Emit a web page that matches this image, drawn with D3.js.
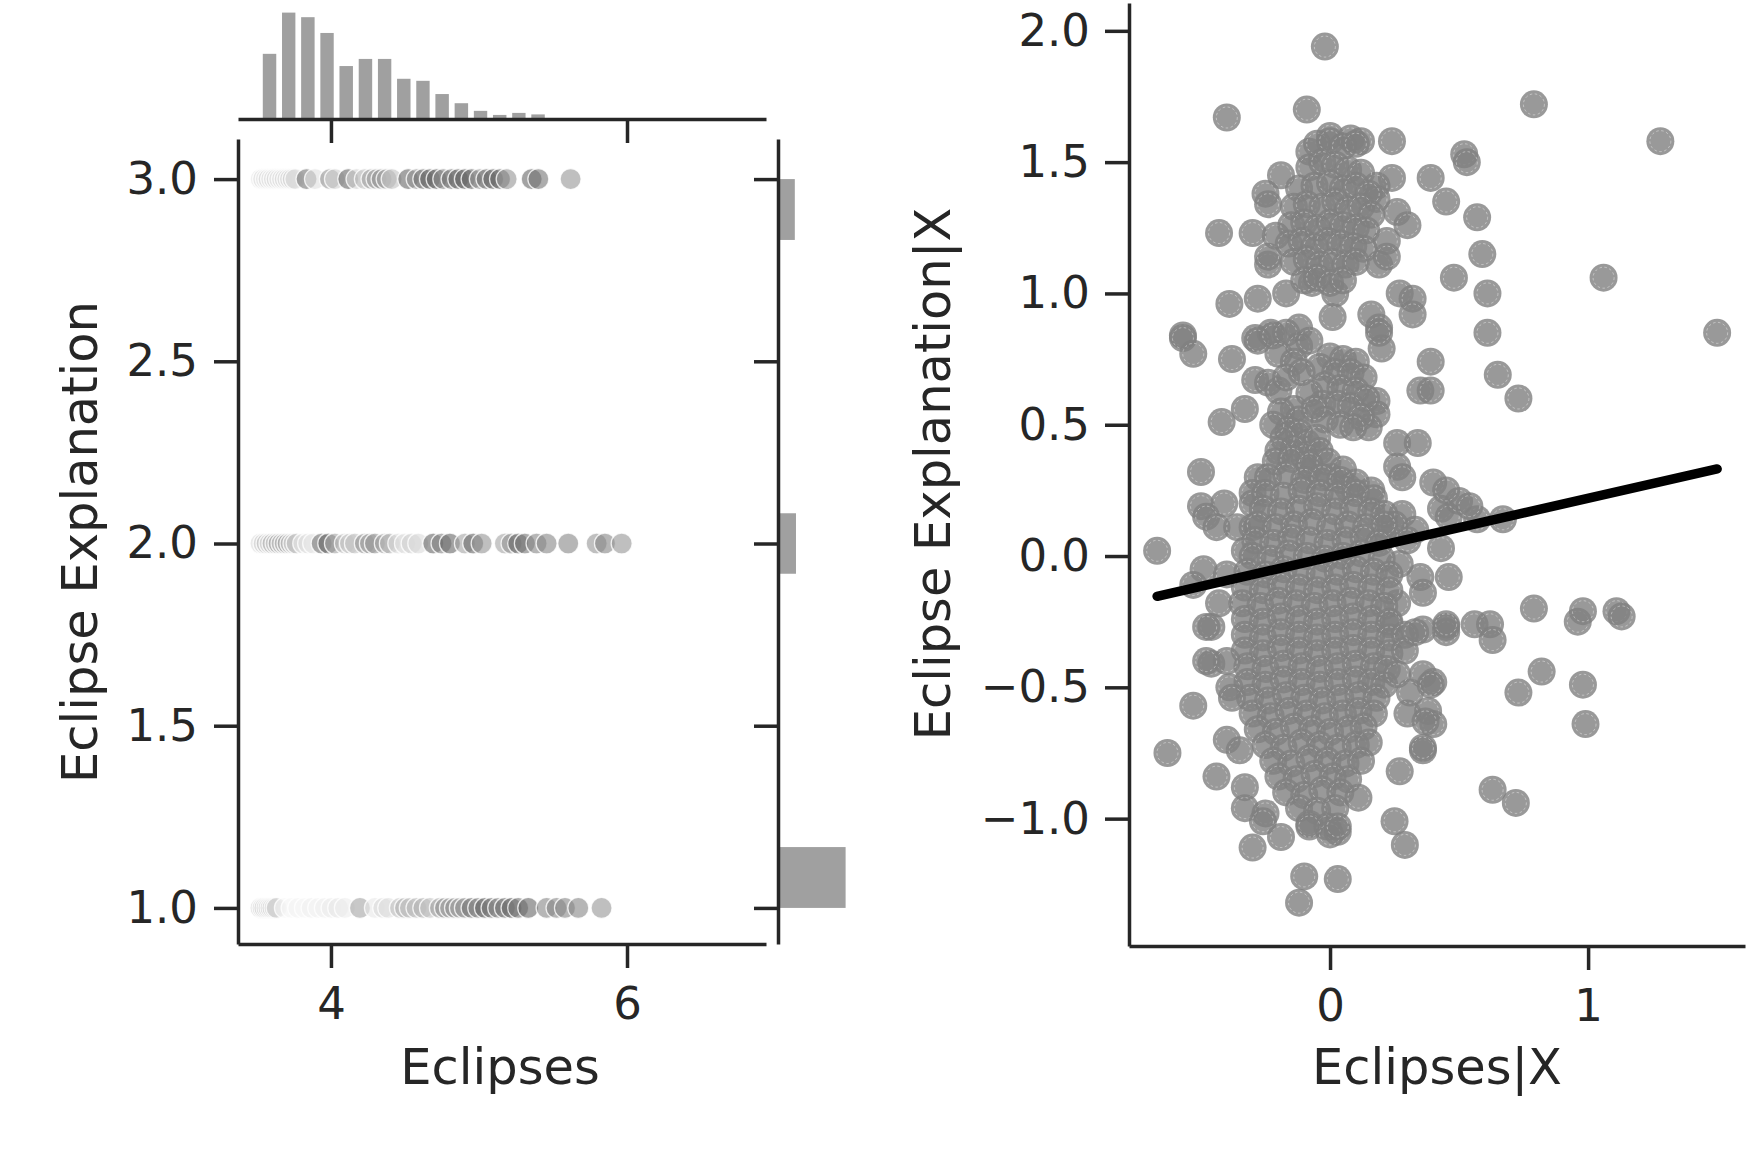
<!DOCTYPE html>
<html>
<head>
<meta charset="utf-8">
<script src="https://cdn.jsdelivr.net/npm/d3@7"></script>
<style>
  body { margin: 0; background: #fff; }
  svg text { font-family: "DejaVu Sans", sans-serif; fill: #262626; }
</style>
</head>
<body>
<div id="chart"></div>
<script>
// ---- left joint plot: Eclipses vs Eclipse Explanation (three levels) ----
// x positions of the points on each level, and a grey shade (0 = white, 1 = darkest)
const row3X = [3.525,3.542,3.560,3.578,3.596,3.614,3.632,3.650,3.669,3.687,3.705,3.723,3.741,3.759,
  3.835,3.892,3.993,4.027,4.117,4.173,4.229,4.274,4.308,4.342,4.376,4.410,4.522,4.579,4.624,4.669,
  4.714,4.759,4.815,4.860,4.905,4.950,5.006,5.051,5.096,5.142,5.187,5.356,5.401,5.619];
const row3Shade = [0.16,0.2,0.16,0.24,0.16,0.2,0.24,0.16,0.2,0.24,0.2,0.24,0.3,0.2,
  0.9,0.2,0.7,0.3,1,0.3,0.4,0.6,0.6,0.7,0.6,0.4,1,0.7,0.9,1,
  1,0.8,0.9,1,1,1,0.7,0.9,1,1,0.7,1,0.9,0.7];

const row2X = [3.524,3.545,3.565,3.585,3.605,3.626,3.646,3.666,3.687,3.707,3.727,3.747,3.768,
  3.813,3.846,3.880,3.937,3.982,4.027,4.094,4.128,4.162,4.229,4.263,4.297,4.364,4.398,
  4.455,4.500,4.545,4.590,4.691,4.747,4.804,4.905,4.961,5.018,5.175,5.220,5.265,5.310,
  5.389,5.457,5.603,5.795,5.851,5.964];
const row2Shade = [0.24,0.3,0.4,0.24,0.5,0.36,0.6,0.4,0.5,0.6,0.4,0.3,0.4,
  0.16,0.2,0.16,0.9,1,0.6,0.4,0.36,0.4,0.7,0.6,0.7,0.6,0.5,
  0.24,0.2,0.3,0.24,1,0.8,1,0.6,1,0.7,0.6,0.7,1,0.9,
  0.8,0.8,0.8,0.7,0.8,0.7];

const row1X = [3.524,3.538,3.551,3.565,3.578,3.592,3.605,3.619,3.633,3.689,3.734,3.779,3.824,
  3.869,3.914,3.959,4.004,4.049,4.094,4.196,4.297,4.353,4.387,4.466,4.500,4.533,4.578,
  4.624,4.669,4.736,4.770,4.804,4.838,4.871,4.905,4.950,4.995,5.040,5.085,5.130,5.175,
  5.220,5.265,5.333,5.457,5.524,5.581,5.671,5.828];
const row1Shade = [0.3,0.24,0.36,0.3,0.24,0.32,0.3,0.24,0.3,0.06,0.06,0.08,0.06,
  0.1,0.08,0.1,0.12,0.16,0.12,0.6,0.16,0.24,0.2,0.4,0.5,0.4,0.44,
  0.5,0.4,0.6,0.7,0.6,0.7,0.6,0.7,0.9,0.8,1,0.9,0.8,0.9,
  1,0.9,1,0.8,0.8,0.8,0.8,0.7];

// marginal histograms
const topHistEdges = [3.520,3.650,3.779,3.909,4.038,4.168,4.298,4.427,4.557,4.686,4.816,4.946,5.075,5.205,5.334,5.464];
const topHistCounts = [128,209,200,169,104,118,118,79,75,49,31,16,8,12,9];
const sideHistBins = [[1.0,1.167],[1.917,2.083],[2.833,3.0]];
const sideHistCounts = [985,262,245];

const leftXTicks = [4, 6];
const leftYTicks = [1.0, 1.5, 2.0, 2.5, 3.0];

// ---- right plot: partial regression, Eclipses|X vs Eclipse Explanation|X ----
const residPoints = [
  [-0.02,1.94],[-0.40,1.67],[-0.09,1.70],[0.79,1.72],[1.28,1.58],[0.24,1.58],[0.24,1.44],[0.39,1.44],
  [0.45,1.35],[0.52,1.53],[0.53,1.50],[0.57,1.29],[0.59,1.15],[0.61,1.00],[0.61,0.85],[0.48,1.06],
  [1.06,1.06],[1.50,0.85],[0.65,0.69],[0.73,0.60],
  [-0.43,1.23],[-0.30,1.23],[-0.19,1.45],[-0.25,1.38],[-0.24,1.34],[0.00,1.60],[0.08,1.59],[0.12,1.58],
  [-0.08,1.54],[0.18,1.41],[0.18,1.36],[0.26,1.31],[0.30,1.26],[0.22,1.20],[0.19,1.11],[0.22,1.14],
  [0.27,1.00],[0.32,0.98],[0.32,0.92],[0.16,0.92],[0.19,0.87],[0.02,1.00],[0.01,0.91],[-0.07,1.04],
  [-0.17,1.00],[-0.28,0.98],[-0.39,0.96],[-0.57,0.84],[-0.24,1.11],[-0.24,1.14],[-0.21,1.22],
  [-0.12,0.87],[-0.23,0.85],[-0.29,0.83],
  [-0.05,1.57],[0.00,1.58],[0.05,1.56],[0.10,1.57],
  [-0.08,1.48],[-0.03,1.50],[0.02,1.49],[0.07,1.47],[0.12,1.46],
  [-0.12,1.40],[-0.06,1.41],[0.00,1.42],[0.05,1.40],[0.10,1.41],[0.15,1.38],
  [-0.14,1.33],[-0.09,1.34],[-0.03,1.33],[0.02,1.35],[0.07,1.32],[0.12,1.33],[0.16,1.30],
  [-0.15,1.26],[-0.10,1.27],[-0.05,1.25],[0.00,1.27],[0.05,1.26],[0.10,1.25],[0.14,1.24],
  [-0.16,1.19],[-0.11,1.20],[-0.06,1.18],[-0.01,1.20],[0.04,1.19],[0.09,1.18],[0.13,1.17],
  [-0.14,1.12],[-0.09,1.13],[-0.04,1.11],[0.01,1.12],[0.06,1.11],[0.10,1.12],
  [-0.10,1.05],[-0.05,1.06],[0.00,1.04],[0.05,1.05],
  [-0.57,0.83],[-0.53,0.77],[-0.38,0.75],[-0.28,0.82],[0.20,0.79],[0.19,0.85],[0.39,0.74],[0.35,0.63],
  [0.39,0.63],[-0.29,0.67],[-0.33,0.56],[-0.42,0.51],[0.18,0.59],[0.18,0.54],[0.15,0.49],[0.26,0.43],
  [0.34,0.43],[0.26,0.34],[0.28,0.30],[0.40,0.28],[-0.50,0.32],[-0.28,0.30],[-0.30,0.24],[-0.30,0.20],
  [-0.50,0.19],[-0.41,0.20],[-0.48,0.15],[-0.44,0.11],[-0.36,0.11],[-0.30,0.11],[-0.33,0.02],[-0.67,0.02],
  [-0.49,-0.05],[-0.53,-0.11],[-0.40,-0.07],[-0.43,-0.18],[-0.46,-0.27],[0.43,0.18],[0.46,0.15],[0.43,0.03],
  [0.35,-0.08],[0.36,-0.14],[0.46,-0.08],[0.45,-0.27],[0.28,0.16],[0.33,0.10],[0.27,-0.03],[0.26,-0.18],
  [0.23,-0.26],[0.36,-0.28],[0.16,0.25],[0.00,0.30],[0.07,0.26],[0.25,0.12],[0.30,0.06],[0.22,0.08],
  [0.67,0.14],[0.57,0.14],[0.50,0.21],[0.54,0.19],[0.45,0.25],
  [-0.22,0.84],[-0.17,0.85],[-0.12,0.80],[-0.08,0.82],[-0.20,0.77],[-0.14,0.74],
  [0.00,0.76],[0.05,0.75],[0.10,0.74],[-0.04,0.72],[0.02,0.70],[0.08,0.70],[0.13,0.68],[-0.02,0.65],
  [0.04,0.64],[0.10,0.63],[0.14,0.60],[-0.03,0.58],[0.03,0.58],[0.08,0.57],[0.12,0.53],[-0.02,0.52],
  [0.04,0.50],[0.09,0.49],
  [-0.24,0.66],[-0.20,0.63],[-0.17,0.68],[-0.14,0.56],[-0.19,0.55],[-0.12,0.52],[-0.16,0.48],[-0.12,0.47],
  [-0.09,0.43],[-0.14,0.41],[-0.10,0.38],[-0.08,0.34],[-0.08,0.62],[-0.11,0.70],
  [-0.18,0.45],[-0.22,0.50],[-0.05,0.45],[-0.04,0.40],[-0.20,0.40],[-0.06,0.56],
  [-0.21,0.36],[-0.15,0.37],[-0.08,0.35],[-0.01,0.36],[0.05,0.33],
  [-0.24,0.30],[-0.17,0.31],[-0.10,0.29],[-0.03,0.30],[0.04,0.29],[0.10,0.28],
  [-0.25,0.24],[-0.18,0.23],[-0.11,0.25],[-0.04,0.24],[0.03,0.23],[0.10,0.24],[0.17,0.22],
  [-0.26,0.18],[-0.19,0.17],[-0.12,0.18],[-0.05,0.19],[0.02,0.17],[0.09,0.18],[0.16,0.17],[0.21,0.16],
  [-0.28,0.12],[-0.21,0.11],[-0.14,0.12],[-0.07,0.13],[0.00,0.11],[0.07,0.12],[0.14,0.11],[0.21,0.12],
  [-0.29,0.06],[-0.22,0.05],[-0.15,0.07],[-0.08,0.06],[-0.01,0.05],[0.06,0.06],[0.13,0.07],[0.19,0.05],
  [-0.30,0.00],[-0.23,-0.01],[-0.16,0.01],[-0.09,0.00],[-0.02,-0.01],[0.05,0.00],[0.12,0.01],[0.20,-0.01],
  [-0.32,-0.06],[-0.25,-0.07],[-0.18,-0.05],[-0.11,-0.06],[-0.04,-0.07],[0.03,-0.06],[0.10,-0.05],[0.17,-0.06],[0.23,-0.07],
  [-0.33,-0.12],[-0.26,-0.13],[-0.19,-0.11],[-0.12,-0.12],[-0.05,-0.13],[0.02,-0.12],[0.09,-0.11],[0.16,-0.12],[0.23,-0.13],
  [-0.34,-0.18],[-0.27,-0.19],[-0.20,-0.17],[-0.13,-0.18],[-0.06,-0.19],[0.01,-0.18],[0.08,-0.17],[0.15,-0.18],[0.21,-0.19],
  [-0.33,-0.24],[-0.26,-0.25],[-0.19,-0.23],[-0.12,-0.24],[-0.05,-0.25],[0.02,-0.24],[0.09,-0.23],[0.16,-0.24],[0.23,-0.25],
  [-0.33,-0.30],[-0.26,-0.31],[-0.19,-0.29],[-0.12,-0.30],[-0.05,-0.31],[0.02,-0.30],[0.09,-0.29],[0.16,-0.30],[0.23,-0.31],[0.29,-0.30],
  [-0.33,-0.36],[-0.26,-0.37],[-0.19,-0.35],[-0.12,-0.36],[-0.05,-0.37],[0.02,-0.36],[0.09,-0.35],[0.16,-0.36],[0.23,-0.37],[0.29,-0.36],
  [-0.32,-0.42],[-0.25,-0.43],[-0.18,-0.41],[-0.11,-0.42],[-0.04,-0.43],[0.03,-0.42],[0.10,-0.41],[0.17,-0.42],[0.22,-0.43],
  [-0.32,-0.48],[-0.25,-0.49],[-0.18,-0.47],[-0.11,-0.48],[-0.04,-0.49],[0.03,-0.48],[0.10,-0.47],[0.16,-0.48],[0.21,-0.49],
  [-0.31,-0.54],[-0.24,-0.55],[-0.17,-0.53],[-0.10,-0.54],[-0.03,-0.55],[0.04,-0.54],[0.11,-0.53],[0.18,-0.54],
  [-0.30,-0.60],[-0.23,-0.61],[-0.16,-0.59],[-0.09,-0.60],[-0.02,-0.61],[0.05,-0.60],[0.11,-0.59],[0.17,-0.60],
  [-0.28,-0.66],[-0.21,-0.67],[-0.14,-0.65],[-0.07,-0.66],[0.00,-0.67],[0.07,-0.66],[0.13,-0.65],
  [-0.25,-0.72],[-0.18,-0.73],[-0.11,-0.71],[-0.04,-0.72],[0.03,-0.73],[0.10,-0.72],[0.15,-0.71],
  [-0.22,-0.78],[-0.15,-0.79],[-0.08,-0.77],[-0.01,-0.78],[0.06,-0.79],[0.12,-0.78],
  [-0.20,-0.84],[-0.13,-0.85],[-0.06,-0.83],[0.01,-0.84],[0.07,-0.85],
  [-0.17,-0.90],[-0.10,-0.91],[-0.03,-0.89],[0.04,-0.90],
  [-0.12,-0.96],[-0.05,-0.97],[0.02,-0.96],
  [-0.08,-1.02],[-0.01,-1.03],[0.03,-1.05],
  [-0.46,-0.41],[-0.40,-0.40],[-0.39,-0.50],[-0.38,-0.54],[-0.53,-0.57],[-0.63,-0.75],[-0.40,-0.70],[-0.35,-0.74],
  [-0.44,-0.84],[-0.33,-0.88],[-0.33,-0.96],[-0.25,-0.98],[-0.26,-1.01],[-0.30,-1.11],[-0.19,-1.07],[-0.08,-1.03],
  [0.00,-1.06],[0.03,-1.03],[0.11,-0.92],[0.25,-1.01],[0.29,-1.10],[-0.10,-1.22],[0.03,-1.23],[-0.12,-1.32],
  [0.36,-0.45],[0.40,-0.48],[0.38,-0.59],[0.40,-0.64],[0.36,-0.74],[0.27,-0.82],[0.30,-0.60],[0.31,-0.52],
  [0.26,-0.45],[0.45,-0.29],
  [0.79,-0.20],[0.96,-0.25],[0.98,-0.21],[1.11,-0.21],[1.13,-0.23],[0.56,-0.26],[0.62,-0.26],[0.63,-0.32],
  [0.45,-0.26],[0.82,-0.44],[0.73,-0.52],[0.98,-0.49],[0.99,-0.64],[0.63,-0.89],[0.72,-0.94],[0.36,-0.73],
  [0.37,-0.63],[0.39,-0.49],[0.33,-0.29],[-0.48,-0.27],[-0.48,-0.40]
];
const fitSlope = 0.2235, fitIntercept = -0.0036;
const rightXTicks = [0, 1];
const rightYTicks = [-1.0, -0.5, 0.0, 0.5, 1.0, 1.5, 2.0];

const W = 1747, H = 1151;
const ink = "#262626";
const tickFont = 45, labelFont = 49.5;

const svg = d3.select("#chart").append("svg")
  .attr("width", W).attr("height", H)
  .attr("viewBox", `0 0 ${W} ${H}`);

// scales
const x = d3.scaleLinear().domain([3.372, 6.939]).range([238, 766]);
const y = d3.scaleLinear().domain([0.901, 3.11]).range([944, 139]);
const topY = d3.scaleLinear().domain([0, 220]).range([119, 7]);
const sideX = d3.scaleLinear().domain([0, 1100]).range([778, 853.5]);
const rx = d3.scaleLinear().domain([-0.779, 1.608]).range([1129, 1745]);
const ry = d3.scaleLinear().domain([-1.485, 2.106]).range([946, 3]);
const shade = d3.interpolateRgb("#ffffff", "#666666");

function styleAxis(g, showText) {
  g.select(".domain").attr("stroke", ink).attr("stroke-width", 3.5);
  g.selectAll(".tick line").attr("stroke", ink).attr("stroke-width", 3.5);
  g.selectAll(".tick text").attr("font-size", tickFont).attr("fill", ink)
    .style("display", showText ? null : "none");
}

// top marginal histogram
svg.append("g").selectAll("rect")
  .data(topHistCounts)
  .join("rect")
  .attr("x", (d, i) => x(topHistEdges[i] + 0.15 * (topHistEdges[i+1] - topHistEdges[i])))
  .attr("width", (d, i) => 0.7 * (x(topHistEdges[i+1]) - x(topHistEdges[i])))
  .attr("y", d => topY(d))
  .attr("height", d => topY(0) - topY(d))
  .attr("fill", "#a0a0a0");
svg.append("g").attr("transform", "translate(0,119)")
  .call(d3.axisBottom(x).tickValues(leftXTicks).tickSize(24).tickSizeOuter(0).tickFormat(""))
  .call(g => styleAxis(g, false));

// side marginal histogram
svg.append("g").selectAll("rect")
  .data(sideHistCounts)
  .join("rect")
  .attr("x", sideX(0))
  .attr("y", (d, i) => y(sideHistBins[i][1]))
  .attr("width", d => sideX(d) - sideX(0))
  .attr("height", (d, i) => y(sideHistBins[i][0]) - y(sideHistBins[i][1]))
  .attr("fill", "#a0a0a0");
svg.append("g").attr("transform", "translate(778,0)")
  .call(d3.axisLeft(y).tickValues(leftYTicks).tickSize(24).tickSizeOuter(0).tickFormat(""))
  .call(g => styleAxis(g, false));

// joint scatter
const rows = [
  { level: 3, xs: row3X, sh: row3Shade },
  { level: 2, xs: row2X, sh: row2Shade },
  { level: 1, xs: row1X, sh: row1Shade }
];
rows.forEach(r => {
  svg.append("g").selectAll("circle")
    .data(r.xs.map((v, i) => ({ v: v, s: r.sh[i] })))
    .join("circle")
    .attr("cx", d => x(d.v))
    .attr("cy", y(r.level))
    .attr("r", 10.5)
    .attr("fill", d => shade(d.s))
    .attr("fill-opacity", 0.6)
    .attr("stroke", "#fff")
    .attr("stroke-opacity", 0.8)
    .attr("stroke-width", 1.3);
});

svg.append("g").attr("transform", "translate(0,944)")
  .call(d3.axisBottom(x).tickValues(leftXTicks).tickSize(24).tickSizeOuter(0).tickPadding(19)
    .tickFormat(d3.format("d")))
  .call(g => styleAxis(g, true));
svg.append("g").attr("transform", "translate(238,0)")
  .call(d3.axisLeft(y).tickValues(leftYTicks).tickSize(24).tickSizeOuter(0).tickPadding(16)
    .tickFormat(d3.format(".1f")))
  .call(g => styleAxis(g, true));

svg.append("text").attr("x", 500).attr("y", 1084)
  .attr("text-anchor", "middle").attr("font-size", labelFont).text("Eclipses");
svg.append("text").attr("transform", "translate(97,542) rotate(-90)")
  .attr("text-anchor", "middle").attr("font-size", labelFont).text("Eclipse Explanation");

// right: partial regression scatter
const pts = svg.append("g").selectAll("g")
  .data(residPoints)
  .join("g")
  .attr("transform", d => `translate(${rx(d[0])},${ry(d[1])})`);
pts.append("circle")
  .attr("r", 14)
  .attr("fill", "#7f7f7f").attr("fill-opacity", 0.8);
pts.append("circle")
  .attr("r", 10.5)
  .attr("fill", "none")
  .attr("stroke", "#fff").attr("stroke-opacity", 0.45)
  .attr("stroke-width", 0.9).attr("stroke-dasharray", "2.5,2.5");

const xr = d3.extent(residPoints, d => d[0]);
svg.append("path")
  .datum(xr)
  .attr("fill", "none")
  .attr("stroke", "#000")
  .attr("stroke-width", 9.5)
  .attr("stroke-linecap", "round")
  .attr("d", d3.line().x(d => rx(d)).y(d => ry(fitSlope * d + fitIntercept)));

svg.append("g").attr("transform", "translate(0,946)")
  .call(d3.axisBottom(rx).tickValues(rightXTicks).tickSize(24).tickSizeOuter(0).tickPadding(19)
    .tickFormat(d3.format("d")))
  .call(g => styleAxis(g, true));
svg.append("g").attr("transform", "translate(1129,0)")
  .call(d3.axisLeft(ry).tickValues(rightYTicks).tickSize(24).tickSizeOuter(0).tickPadding(15)
    .tickFormat(d3.format(".1f")))
  .call(g => styleAxis(g, true));

svg.append("text").attr("x", 1437).attr("y", 1084)
  .attr("text-anchor", "middle").attr("font-size", labelFont).text("Eclipses|X");
svg.append("text").attr("transform", "translate(950,474) rotate(-90)")
  .attr("text-anchor", "middle").attr("font-size", labelFont).text("Eclipse Explanation|X");
</script>
</body>
</html>
